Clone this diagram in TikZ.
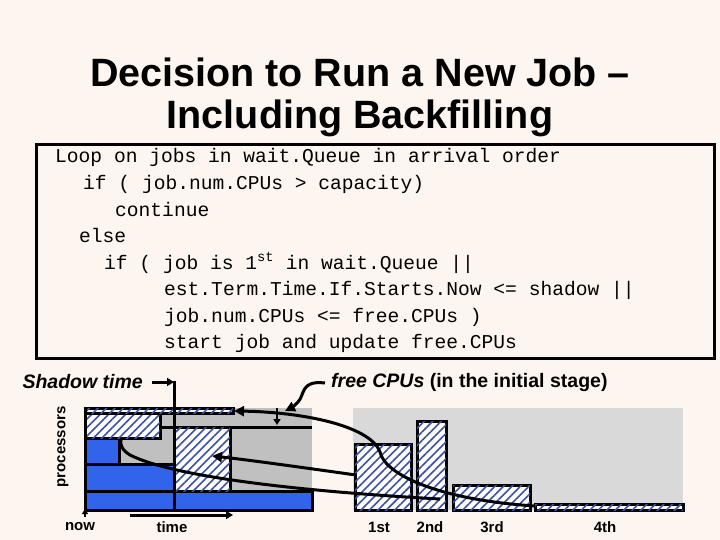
\documentclass[tikz,border=0pt]{standalone}
\usepackage{fontspec}
\setmainfont{Liberation Sans}
\setmonofont{Liberation Mono}
\usetikzlibrary{patterns.meta,arrows.meta}
\definecolor{bg}{RGB}{253,246,240}
\definecolor{dgray}{RGB}{192,192,192}
\definecolor{lgray}{RGB}{217,217,217}
\definecolor{jblue}{RGB}{50,100,235}
\definecolor{hatch}{RGB}{60,80,170}
\tikzset{
 hbox/.style={draw=black,line width=3pt,fill=white,postaction={pattern={Lines[angle=45,distance=6pt,line width=1.6pt]},pattern color=hatch}},
 bbox/.style={draw=black,line width=3pt,fill=jblue},
 code/.style={anchor=base west,font=\ttfamily\fontsize{19.6}{19.6}\selectfont,inner sep=0},
 lab/.style={font=\bfseries\fontsize{15}{15}\selectfont,inner sep=0},
 conn/.style={line width=3pt},
 arr/.style={line width=3pt,-{Triangle[length=10pt,width=10pt]}}
}
\begin{document}
\begin{tikzpicture}[x=1pt,y=-1pt]
\fill[bg] (0,0) rectangle (720,540);
\useasboundingbox (0,0) rectangle (720,540);
\node[font=\bfseries\fontsize{39.5}{39.5}\selectfont] (t1) at (360,72) {Decision to Run a New Job –};
\node[font=\bfseries\fontsize{39.5}{39.5}\selectfont] (t2) at (360,118) {Including Backfilling};
\draw[line width=3pt] (36,145) rectangle (714,358);
\node[code] (c1) at (55,163) {Loop on jobs in wait.Queue in arrival order};
\node[code] (c2) at (83,190) {if ( job.num.CPUs > capacity)};
\node[code] (c3) at (115,216) {continue};
\node[code] (c4) at (79,243) {else};
\node[code] (c5) at (104,269) {if ( job is 1\textsuperscript{st} in wait.Queue ||};
\node[code] (c6) at (164,295) {est.Term.Time.If.Starts.Now <= shadow ||};
\node[code] (c7) at (164,322) {job.num.CPUs <= free.CPUs )};
\node[code] (c8) at (164,348) {start job and update free.CPUs};
% gray areas
\fill[dgray] (85,408) rectangle (312,510);
\fill[lgray] (353,408) rectangle (683,510);
% left chart
\draw[conn] (160,427) -- (312,427);
\draw[bbox] (85,491) rectangle (312,510);
\draw[bbox] (85,464) rectangle (174,491);
\draw[bbox] (85,438) rectangle (119,464);
\draw[hbox] (174,427) rectangle (230,491);
\draw[hbox] (85,413) rectangle (160,438);
\draw[hbox] (85,408) rectangle (233,413);
% right boxes
\draw[hbox] (355,444) rectangle (411,510);
\draw[hbox] (417,421) rectangle (446,510);
\draw[hbox] (453,485) rectangle (530,510);
\draw[hbox] (535,504) rectangle (683,510);
% labels
\node[font=\bfseries\itshape\fontsize{19.5}{19.5}\selectfont,anchor=east,inner sep=0] (sh) at (143,382) {Shadow time};
\coordinate (sha) at (152,382);
\coordinate (shb) at (174,382);
\draw[line width=3pt,-{Triangle[length=7pt,width=8pt]}] (sha) -- (shb);
\draw[conn] (174,380.5) -- (174,510);
\node[anchor=west,inner sep=0,font=\bfseries\fontsize{19.5}{19.5}\selectfont] (fc) at (331,382) {\textit{free CPUs} (in the initial stage)};
\draw[arr] (325,383) .. controls (300,380) and (305,395) .. (298,402) .. controls (293,407) .. (285,411);
\draw[line width=2.5pt,-{Triangle[length=6pt,width=7pt]}] (277,408) -- (277,425);
\node[lab,rotate=90] (pr) at (63,447) {processors};
\coordinate (nowa) at (85,517);
\draw[line width=3pt] (85,408) -- (85,510);
\draw[line width=2.5pt,-{Triangle[length=5pt,width=6pt]}] (nowa) -- (85,509);
\draw[line width=3pt,-{Triangle[length=7pt,width=8pt]}] (130,515) -- (233,515);
\node[lab] (now) at (80,527) {now};
\node[lab] (tm) at (172,527) {time};
\node[lab] (l1) at (379,527) {1st};
\node[lab] (l2) at (430,527) {2nd};
\node[lab] (l3) at (492,527) {3rd};
\node[lab] (l4) at (605,527) {4th};
% curves
\draw[arr] (535,506) .. controls (440,500) and (385,475) .. (380,452) .. controls (370,425) and (300,412) .. (234,411);
\draw[arr] (356,475) .. controls (320,470) and (250,460) .. (212,456);
\draw[conn] (440,499) .. controls (330,493) and (180,480) .. (130,455) .. controls (122,450) and (120,445) .. (121,440);
\end{tikzpicture}
\end{document}
